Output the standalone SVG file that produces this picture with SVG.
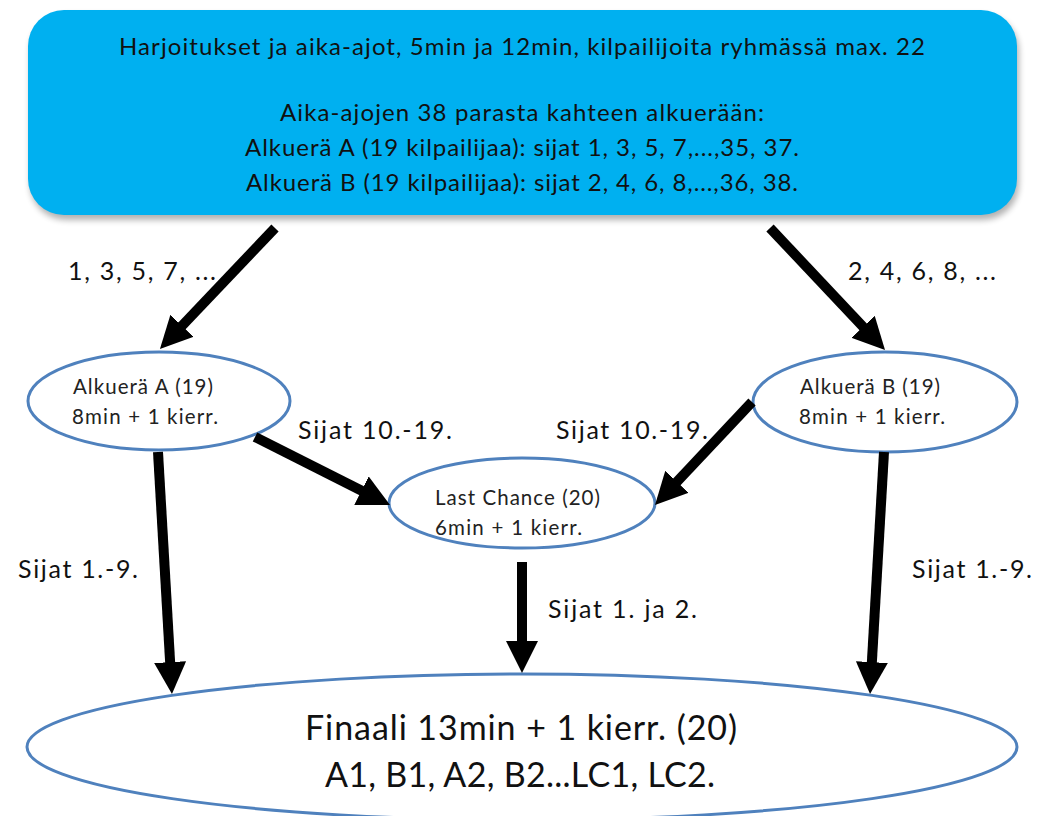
<svg xmlns="http://www.w3.org/2000/svg" width="1047" height="816" viewBox="0 0 1047 816">
<style>
.t{font-family:Lato,"Open Sans","Liberation Sans",sans-serif;fill:#111}
.top{font-size:24px;text-anchor:middle}
.lbl{font-size:25px}
.sm{font-size:20.5px;fill:#222}
.fin{font-size:34px;text-anchor:middle}
.ell{fill:#fff;stroke:#4F81BD;stroke-width:3}
.arr{stroke:#000;stroke-width:10;fill:none;marker-end:url(#ah)}
</style>
<defs>
<marker id="ah" viewBox="0 0 10 10" refX="5.3" refY="5" markerWidth="3.2" markerHeight="3.2" orient="auto" markerUnits="strokeWidth">
<path d="M0,0 L10,5 L0,10 z" fill="#000"/>
</marker>
<filter id="sh" x="-5%" y="-10%" width="110%" height="130%">
<feGaussianBlur stdDeviation="3"/>
</filter>
</defs>
<rect width="1047" height="816" fill="#fff"/>
<g id="top">
<rect x="30" y="15" width="989" height="205" rx="36" fill="#000" opacity="0.3" filter="url(#sh)"/>
<rect x="28" y="10" width="989" height="205" rx="36" fill="#00B0F0"/>
<text class="t top" x="522" y="55" textLength="806">Harjoitukset ja aika-ajot, 5min ja 12min, kilpailijoita ryhmässä max. 22</text>
<text class="t top" x="522" y="121" textLength="484">Aika-ajojen 38 parasta kahteen alkuerään:</text>
<text class="t top" x="522" y="156" textLength="554">Alkuerä A (19 kilpailijaa): sijat 1, 3, 5, 7,...,35, 37.</text>
<text class="t top" x="522" y="191" textLength="552">Alkuerä B (19 kilpailijaa): sijat 2, 4, 6, 8,...,36, 38.</text>
</g>
<g id="heatA">
<ellipse class="ell" cx="159" cy="401" rx="131" ry="49"/>
<text class="t sm" x="73" y="394" textLength="140">Alkuerä A (19)</text>
<text class="t sm" x="72" y="424" textLength="146">8min + 1 kierr.</text>
</g>
<g id="heatB">
<ellipse class="ell" cx="885" cy="402" rx="132" ry="50"/>
<text class="t sm" x="800" y="394" textLength="140">Alkuerä B (19)</text>
<text class="t sm" x="799" y="424" textLength="146">8min + 1 kierr.</text>
</g>
<g id="lastChance">
<ellipse class="ell" cx="522" cy="503" rx="133" ry="45"/>
<text class="t sm" x="435" y="505" textLength="165">Last Chance (20)</text>
<text class="t sm" x="435" y="535" textLength="147">6min + 1 kierr.</text>
</g>
<g id="final">
<ellipse class="ell" cx="522" cy="747" rx="495" ry="73"/>
<text class="t fin" x="521" y="740" textLength="432">Finaali 13min + 1 kierr. (20)</text>
<text class="t fin" x="520" y="787" textLength="390">A1, B1, A2, B2...LC1, LC2.</text>
</g>
<g id="connectors">
<line class="arr" x1="275" y1="228" x2="170.3" y2="338.1"/>
<line class="arr" x1="770" y1="228" x2="874.7" y2="339.1"/>
<line class="arr" x1="255" y1="437" x2="376.6" y2="498.3"/>
<line class="arr" x1="752" y1="402" x2="665.3" y2="494.1"/>
<line class="arr" x1="158" y1="452" x2="171.1" y2="679"/>
<line class="arr" x1="522" y1="562" x2="522" y2="658"/>
<line class="arr" x1="884" y1="452" x2="870.9" y2="679"/>
</g>
<g id="labels">
<text class="t lbl" x="68" y="280" textLength="148">1, 3, 5, 7, ...</text>
<text class="t lbl" x="848" y="280" textLength="148">2, 4, 6, 8, ...</text>
<text class="t lbl" x="298" y="439" textLength="154">Sijat 10.-19.</text>
<text class="t lbl" x="556" y="439" textLength="152">Sijat 10.-19.</text>
<text class="t lbl" x="18" y="578" textLength="120">Sijat 1.-9.</text>
<text class="t lbl" x="548" y="618" textLength="149">Sijat 1. ja 2.</text>
<text class="t lbl" x="912" y="578" textLength="120">Sijat 1.-9.</text>
</g>
</svg>
